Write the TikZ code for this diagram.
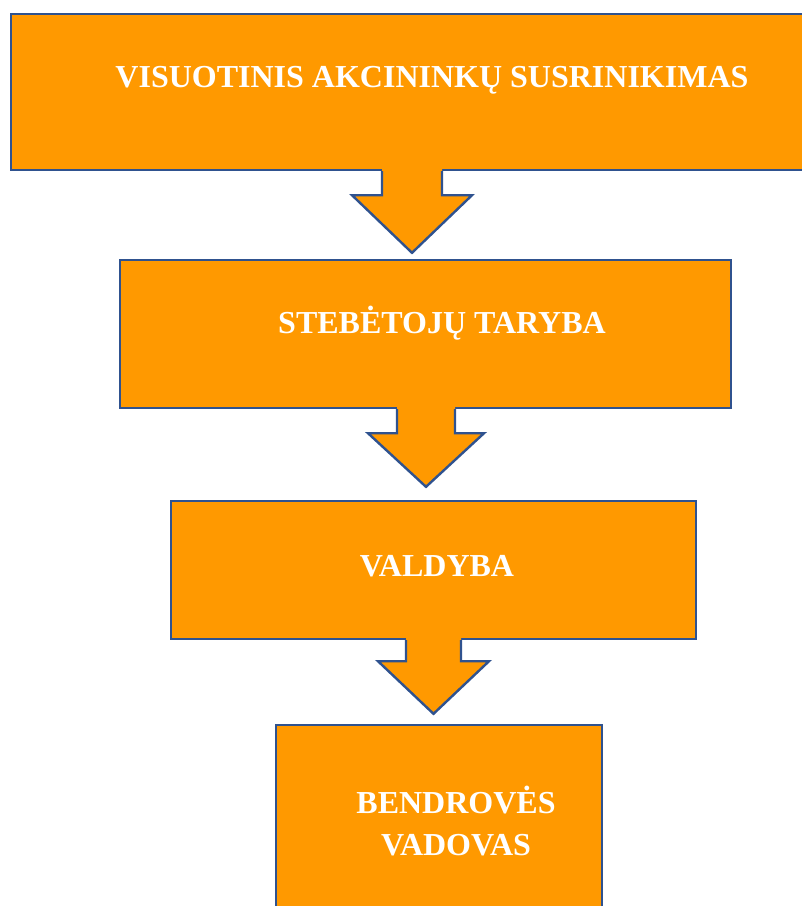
\documentclass[tikz,border=0pt]{standalone}
\usepackage{fontspec}
\setmainfont{Liberation Serif}
\definecolor{BoxOrange}{RGB}{255,153,0}
\definecolor{EdgeBlue}{RGB}{47,82,143}
\usetikzlibrary{calc}

\begin{document}
\begin{tikzpicture}[x=0.75pt,y=-0.75pt,
      box/.style={draw=EdgeBlue,fill=BoxOrange,line width=1.8pt,inner sep=0pt},
      lbl/.style={text=white,font=\bfseries\fontsize{24}{31.5}\selectfont,align=center,anchor=base},
      edge/.style={draw=EdgeBlue,line width=1.8pt}]
    \clip (0,0) rectangle (802,906);
    \node[box,minimum width=600.75pt,minimum height=117pt] (b1) at (411.5,92) {};
    \node[box,minimum width=458.25pt,minimum height=111pt] (b2) at (425.5,334) {};
    \node[box,minimum width=393.75pt,minimum height=103.5pt] (b3) at (433.5,570) {};
    \node[box,minimum width=244.5pt,minimum height=143.25pt] (b4) at (439,820.5) {};
    \node[lbl] (t1) at (432,88) {VISUOTINIS AKCININKŲ SUSRINIKIMAS};
    \node[lbl] (t2) at (442,333) {STEBĖTOJŲ TARYBA};
    \node[lbl] (t3) at (437,576) {VALDYBA};
    \node[lbl] (t4) at (456,855) {BENDROVĖS\\VADOVAS};
    % block arrows between the boxes
    \foreach \u/\v/\cx/\w/\h/\n/\g in {b1/b2/412/30/60/24/6,b2/b3/426/29/58/24/13,b3/b4/433.5/27.5/55.5/21/10}{
      \path (\cx,0 |- \u.south) coordinate (top) (\cx,0 |- \v.north) coordinate (bot);
      \fill[BoxOrange] ($(top)+(-\w,-2)$) -- ($(top)+(-\w,\n)$) -- ($(top)+(-\h,\n)$) -- ($(bot)+(0,-\g)$)
        -- ($(top)+(\h,\n)$) -- ($(top)+(\w,\n)$) -- ($(top)+(\w,-2)$) -- cycle;
      \draw[edge] ($(top)+(-\w,0)$) -- ($(top)+(-\w,\n)$) -- ($(top)+(-\h,\n)$) -- ($(bot)+(0,-\g)$)
        -- ($(top)+(\h,\n)$) -- ($(top)+(\w,\n)$) -- ($(top)+(\w,0)$);
    }
  \end{tikzpicture}
\end{document}
